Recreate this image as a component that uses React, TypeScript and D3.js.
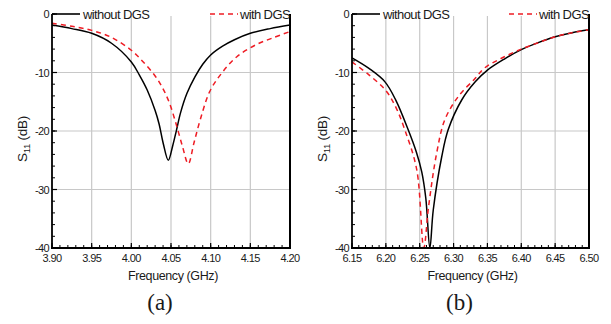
import React from 'react';
import * as d3 from 'd3';

// panel (a): 3.90 - 4.20 GHz
const freqA1 = [3.90, 3.925, 3.95, 3.975, 4.00, 4.01, 4.02, 4.03, 4.035, 4.04, 4.0466, 4.052, 4.057, 4.062, 4.07, 4.08, 4.09, 4.10, 4.115, 4.13, 4.15, 4.175, 4.20];
const s11A1 = [-1.9, -2.5, -3.3, -5.0, -8.2, -10.4, -13.0, -16.5, -18.8, -22.0, -25.0, -22.6, -19.8, -16.9, -13.6, -10.8, -8.6, -7.0, -5.5, -4.4, -3.3, -2.5, -1.9];
const freqA2 = [3.90, 3.925, 3.95, 3.975, 4.00, 4.015, 4.03, 4.04, 4.048, 4.056, 4.064, 4.0718, 4.079, 4.087, 4.099, 4.114, 4.133, 4.158, 4.18, 4.20];
const s11A2 = [-1.6, -2.1, -2.8, -4.0, -6.2, -8.2, -10.6, -12.8, -15.2, -18.6, -22.4, -25.6, -22.0, -18.0, -13.2, -10.1, -7.3, -5.2, -4.0, -3.0];

// panel (b): 6.15 - 6.50 GHz
const freqB1 = [6.15, 6.175, 6.1987, 6.215, 6.233, 6.245, 6.253, 6.259, 6.265, 6.27, 6.2825, 6.292, 6.312, 6.332, 6.35, 6.375, 6.40, 6.425, 6.45, 6.475, 6.50];
const s11B1 = [-7.5, -9.3, -11.6, -14.8, -19.8, -23.6, -27.0, -31.5, -40.0, -33.5, -24.4, -19.8, -14.7, -11.6, -9.6, -7.7, -6.1, -4.9, -3.9, -3.2, -2.7];
const freqB2 = [6.15, 6.175, 6.20, 6.215, 6.228, 6.2456, 6.256, 6.263, 6.275, 6.287, 6.307, 6.332, 6.345, 6.37, 6.40, 6.425, 6.45, 6.475, 6.50];
const s11B2 = [-8.2, -10.4, -13.1, -16.0, -19.8, -26.6, -40.0, -33.0, -23.8, -18.1, -14.1, -11.0, -9.3, -7.6, -6.0, -4.9, -3.9, -3.2, -2.7];

const ticksA = [3.90, 3.95, 4.00, 4.05, 4.10, 4.15, 4.20];
const ticksB = [6.15, 6.20, 6.25, 6.30, 6.35, 6.40, 6.45, 6.50];
const yTicks = [0, -10, -20, -30, -40];
const legendNames = ['without DGS', 'with DGS'];

const W = 611;
const H = 324;
const top = 14;
const bottom = 248;
const font = '"Liberation Sans", Arial, sans-serif';

type PanelProps = {
  id: string;
  left: number;
  right: number;
  xTicks: number[];
  f1: number[];
  s1: number[];
  f2: number[];
  s2: number[];
  label: string;
};

const Panel = ({ id, left, right, xTicks, f1, s1, f2, s2, label }: PanelProps) => {
  const x0 = xTicks[0];
  const x1 = xTicks[xTicks.length - 1];
  const x = d3.scaleLinear().domain([x0, x1]).range([left, right]);
  const y = d3.scaleLinear().domain([0, -40]).range([top, bottom]);

  const line = d3.line<[number, number]>()
    .x(d => x(d[0]))
    .y(d => y(d[1]))
    .curve(d3.curveCatmullRom.alpha(0.5));

  const d1 = line(f1.map((f, i) => [f, s1[i]]));
  const d2 = line(f2.map((f, i) => [f, s2[i]]));

  const nMinor = Math.round((x1 - x0) / 0.01);
  const xMinor = d3.range(nMinor + 1).map(i => x0 + i * 0.01);
  const yMinor = d3.range(0, -41, -2);
  const cx = (left + right) / 2;

  return (
    <g>
      <defs>
        <clipPath id={id}>
          <rect x={left} y={top - 1} width={right - left} height={bottom - top + 1} />
        </clipPath>
      </defs>
      {/* grid */}
      {xTicks.slice(1, -1).map(t => (
        <line key={'gx' + t} x1={x(t)} x2={x(t)} y1={top + 2} y2={bottom} stroke="#c8c8c8" strokeWidth={1.2} />
      ))}
      {yTicks.slice(1, -1).map(t => (
        <line key={'gy' + t} x1={left} x2={right} y1={y(t)} y2={y(t)} stroke="#c8c8c8" strokeWidth={1.2} />
      ))}
      {/* curves */}
      <g clipPath={`url(#${id})`}>
        <path d={d1 || ''} fill="none" stroke="#000" strokeWidth={1.5} />
        <path d={d2 || ''} fill="none" stroke="#ee1c24" strokeWidth={1.5} strokeDasharray="5,4" />
      </g>
      {/* axes */}
      <line x1={left} x2={left} y1={top} y2={bottom} stroke="#000" strokeWidth={1.8} />
      <line x1={left - 1} x2={right + 1} y1={bottom} y2={bottom} stroke="#000" strokeWidth={1.8} />
      <line x1={right} x2={right} y1={top} y2={bottom} stroke="#000" strokeWidth={2} />
      {xMinor.map(t => (
        <line key={'mx' + t} x1={x(t)} x2={x(t)} y1={bottom} y2={bottom - 3} stroke="#000" strokeWidth={1} />
      ))}
      {xTicks.map(t => (
        <line key={'tx' + t} x1={x(t)} x2={x(t)} y1={bottom} y2={bottom - 5} stroke="#000" strokeWidth={1.2} />
      ))}
      {yMinor.map(t => (
        <line key={'my' + t} x1={left} x2={left + 3} y1={y(t)} y2={y(t)} stroke="#000" strokeWidth={1} />
      ))}
      {yTicks.map(t => (
        <line key={'ty' + t} x1={left} x2={left + 5} y1={y(t)} y2={y(t)} stroke="#000" strokeWidth={1.2} />
      ))}
      {/* tick labels */}
      {xTicks.map(t => (
        <text key={'lx' + t} x={x(t)} y={262} textAnchor="middle" fontFamily={font} fontSize={11} letterSpacing={-0.6} fill="#1a1a1a">
          {t.toFixed(2)}
        </text>
      ))}
      {yTicks.map(t => (
        <text key={'ly' + t} x={left - 3} y={y(t) + 4} textAnchor="end" fontFamily={font} fontSize={11} letterSpacing={-0.6} fill="#1a1a1a">
          {t}
        </text>
      ))}
      <text x={cx + 2} y={280} textAnchor="middle" fontFamily={font} fontSize={12.5} letterSpacing={-0.4} fill="#1a1a1a">
        Frequency (GHz)
      </text>
      <text transform={`translate(${left - 25},139) rotate(-90)`} textAnchor="middle" fontFamily={font} fontSize={13.5} letterSpacing={-0.3} fill="#1a1a1a">
        S<tspan fontSize={9.5} dy={3}>11</tspan><tspan dy={-3}> (dB)</tspan>
      </text>
      {/* legend */}
      <line x1={left} x2={left + 28} y1={top} y2={top} stroke="#000" strokeWidth={1.6} />
      <text x={left + 31} y={top + 5} fontFamily={font} fontSize={13} letterSpacing={-0.6} fill="#1a1a1a">{legendNames[0]}</text>
      <line x1={right - 80} x2={right - 52} y1={top} y2={top} stroke="#ee1c24" strokeWidth={1.6} strokeDasharray="5,4" />
      <text x={right} y={top + 5} textAnchor="end" fontFamily={font} fontSize={13} letterSpacing={-0.6} fill="#1a1a1a">{legendNames[1]}</text>
      {/* panel label */}
      <text x={cx - 11} y={310} textAnchor="middle" fontFamily='"Liberation Serif", "Times New Roman", serif' fontSize={23} fill="#1a1a1a">
        {label}
      </text>
    </g>
  );
};

export default function App() {
  return (
    <svg width={W} height={H} style={{ position: 'absolute', left: 0, top: 0, background: '#fff' }}>
      <Panel id="clipA" left={52} right={290} xTicks={ticksA} f1={freqA1} s1={s11A1} f2={freqA2} s2={s11A2} label="(a)" />
      <Panel id="clipB" left={352} right={589} xTicks={ticksB} f1={freqB1} s1={s11B1} f2={freqB2} s2={s11B2} label="(b)" />
    </svg>
  );
}
